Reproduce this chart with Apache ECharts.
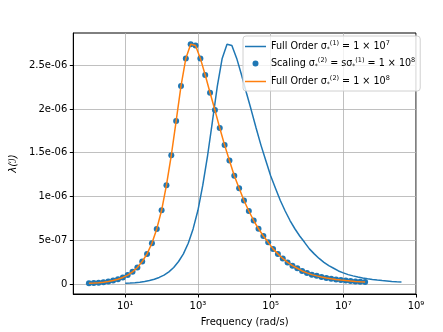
<!DOCTYPE html>
<html>
<head>
<meta charset="utf-8">
<script src="https://cdn.jsdelivr.net/npm/echarts@6/dist/echarts.min.js"></script>
<style>
  html, body { margin: 0; padding: 0; background: #fff; }
  #chart { width: 443px; height: 332px; }
</style>
</head>
<body>
<div id="chart"></div>
<script>
// frequency samples (rad/s) – 15 per two decades
const freqScaled = [
    1, 1.359, 1.848, 2.512, 3.415, 4.642, 6.310, 8.577, 11.66, 15.85, 21.54, 29.29, 39.81, 54.12, 73.56,
    100, 135.9, 184.8, 251.2, 341.5, 464.2, 631.0, 857.7, 1166, 1585, 2154, 2929, 3981, 5412, 7356,
    1e4, 1.359e4, 1.848e4, 2.512e4, 3.415e4, 4.642e4, 6.310e4, 8.577e4, 1.166e5, 1.585e5, 2.154e5, 2.929e5, 3.981e5, 5.412e5, 7.356e5,
    1e6, 1.359e6, 1.848e6, 2.512e6, 3.415e6, 4.642e6, 6.310e6, 8.577e6, 1.166e7, 1.585e7, 2.154e7, 2.929e7, 3.981e7
];
const freqFull1 = [
    10, 13.59, 18.48, 25.12, 34.15, 46.42, 63.10, 85.77, 116.6, 158.5, 215.4, 292.9, 398.1, 541.2, 735.6,
    1000, 1359, 1848, 2512, 3415, 4642, 6310, 8577, 1.166e4, 1.585e4, 2.154e4, 2.929e4, 3.981e4, 5.412e4, 7.356e4,
    1e5, 1.359e5, 1.848e5, 2.512e5, 3.415e5, 4.642e5, 6.310e5, 8.577e5, 1.166e6, 1.585e6, 2.154e6, 2.929e6, 3.981e6, 5.412e6, 7.356e6,
    1e7, 1.359e7, 1.848e7, 2.512e7, 3.415e7, 4.642e7, 6.310e7, 8.577e7, 1.166e8, 1.585e8, 2.154e8, 2.929e8, 3.981e8
];

// lambda values (x 1e-6)
const lambdaFull1 = [
    0.009, 0.012, 0.016, 0.022, 0.030, 0.041, 0.056, 0.076, 0.103, 0.140, 0.190, 0.258, 0.345, 0.466, 0.630,
    0.843, 1.129, 1.471, 1.862, 2.261, 2.577, 2.738, 2.724, 2.577, 2.388, 2.185, 1.987, 1.783, 1.587, 1.411,
    1.237, 1.095, 0.955, 0.835, 0.726, 0.632, 0.549, 0.477, 0.402, 0.345, 0.293, 0.248, 0.210, 0.181, 0.150,
    0.128, 0.108, 0.094, 0.081, 0.070, 0.061, 0.053, 0.046, 0.040, 0.035, 0.030, 0.026, 0.023
];
const lambdaScaled = [
    0.009, 0.012, 0.016, 0.022, 0.030, 0.041, 0.056, 0.076, 0.103, 0.140, 0.190, 0.258, 0.345, 0.466, 0.630,
    0.843, 1.129, 1.471, 1.862, 2.261, 2.577, 2.738, 2.724, 2.577, 2.388, 2.185, 1.987, 1.783, 1.587, 1.411,
    1.237, 1.095, 0.955, 0.835, 0.726, 0.632, 0.549, 0.477, 0.402, 0.345, 0.293, 0.248, 0.210, 0.181, 0.150,
    0.128, 0.108, 0.094, 0.081, 0.070, 0.061, 0.053, 0.046, 0.040, 0.035, 0.030, 0.026, 0.023
];
const lambdaFull2 = lambdaScaled.slice();

const xTicks = [10, 1e3, 1e5, 1e7, 1e9];
const yTicks = [0, 5e-7, 1e-6, 1.5e-6, 2e-6, 2.5e-6];

const SUP = { '0': '⁰', '1': '¹', '2': '²', '3': '³', '4': '⁴', '5': '⁵', '6': '⁶', '7': '⁷', '8': '⁸', '9': '⁹', '-': '⁻' };
const pair = (xs, ys) => xs.map((x, i) => [x, ys[i] * 1e-6]);

const legendText = {
    'Full Order 1': '{t|Full Order σ}{sb|*}{sp|(1)}{t| = 1 × 10}{sp|7}',
    'Scaling 2': '{t|Scaling σ}{sb|*}{sp|(2)}{t| = sσ}{sb|*}{sp|(1)}{t| = 1 × 10}{sp|8}',
    'Full Order 2': '{t|Full Order σ}{sb|*}{sp|(2)}{t| = 1 × 10}{sp|8}',
};
// line handle and small dot inside a 21x13 box (tiny corner marks fix the box size)
const lineIcon = 'path://M0,5.75 L21,5.75 L21,7.25 L0,7.25 Z';
const dotIcon = 'path://M0,0 L0.01,0 L0,0.01 Z M21,13 L20.99,13 L21,12.99 Z M13.5,6.5 A3,3 0 1 1 7.5,6.5 A3,3 0 1 1 13.5,6.5 Z';

const chart = echarts.init(document.getElementById('chart'), null, { renderer: 'canvas' });
const font = 'DejaVu Sans';

chart.setOption({
    animation: false,
    textStyle: { fontFamily: font },
    grid: { left: 71, right: 27, top: 33, bottom: 35, show: true, borderColor: '#000', borderWidth: 1 },
    legend: {
        orient: 'vertical',
        left: 243, top: 36,
        padding: [4, 5, 4, 2],
        itemGap: 5,
        itemWidth: 21, itemHeight: 13,
        backgroundColor: 'rgba(255,255,255,0.8)',
        borderColor: '#d0d0d0', borderWidth: 1, borderRadius: 3,
        data: [
            { name: 'Full Order 1', icon: lineIcon },
            { name: 'Scaling 2', icon: dotIcon, itemStyle: { color: '#1f77b4' } },
            { name: 'Full Order 2', icon: lineIcon },
        ],
        formatter: name => legendText[name],
        textStyle: {
            fontFamily: font, fontSize: 10, color: '#000',
            rich: {
                t: { fontFamily: font, fontSize: 9.6, color: '#000', lineHeight: 13 },
                sp: { fontFamily: font, fontSize: 6.5, color: '#000', padding: [0, 0, 6, 0] },
                sb: { fontFamily: font, fontSize: 6, color: '#000', padding: [5, 0, 0, 0] },
            }
        }
    },
    xAxis: {
        type: 'log',
        logBase: 10,
        min: 0.3715,
        max: 1e9,
        name: 'Frequency (rad/s)',
        nameLocation: 'middle',
        nameGap: 23,
        nameTextStyle: { fontFamily: font, fontSize: 10, color: '#000' },
        axisLine: { show: true, onZero: false, lineStyle: { color: '#000', width: 1 } },
        axisTick: { show: true, inside: false, length: 3.5, customValues: xTicks, lineStyle: { color: '#000' } },
        axisLabel: {
            customValues: xTicks, fontFamily: font, fontSize: 10, color: '#000', margin: 7,
            formatter: v => '10' + String(Math.round(Math.log10(v))).split('').map(c => SUP[c]).join('')
        },
        splitLine: { show: true, lineStyle: { color: '#b0b0b0', width: 0.8 } },
        minorTick: { show: false },
    },
    yAxis: {
        type: 'value',
        min: -1.13e-7,
        max: 2.867e-6,
        name: 'λ(ℐ)',
        nameLocation: 'middle',
        nameGap: 46,
        nameTextStyle: { fontFamily: font, fontSize: 10, color: '#000', fontStyle: 'italic' },
        axisLine: { show: true, onZero: false, lineStyle: { color: '#000', width: 1 } },
        axisTick: { show: true, inside: false, length: 3.5, customValues: yTicks, lineStyle: { color: '#000' } },
        axisLabel: {
            customValues: yTicks, fontFamily: font, fontSize: 10, color: '#000', margin: 6,
            formatter: v => {
                if (Math.abs(v) < 1e-15) return '0';
                const s = Number(v.toPrecision(3)).toExponential();
                return s.replace(/e([+-])(\d)$/, 'e$10$2');
            }
        },
        splitLine: { show: true, lineStyle: { color: '#b0b0b0', width: 0.8 } },
    },
    series: [
        {
            name: 'Full Order 1', type: 'line', data: pair(freqFull1, lambdaFull1),
            symbol: 'none', lineStyle: { color: '#1f77b4', width: 1.5 }, itemStyle: { color: '#1f77b4' }, z: 2
        },
        {
            name: 'Scaling 2', type: 'scatter', data: pair(freqScaled, lambdaScaled),
            symbol: 'circle', symbolSize: 6, itemStyle: { color: '#1f77b4', opacity: 1 }, z: 3
        },
        {
            name: 'Full Order 2', type: 'line', data: pair(freqScaled, lambdaFull2),
            symbol: 'none', lineStyle: { color: '#ff7f0e', width: 1.5 }, itemStyle: { color: '#ff7f0e' }, z: 4
        },
    ],
});
</script>
</body>
</html>
